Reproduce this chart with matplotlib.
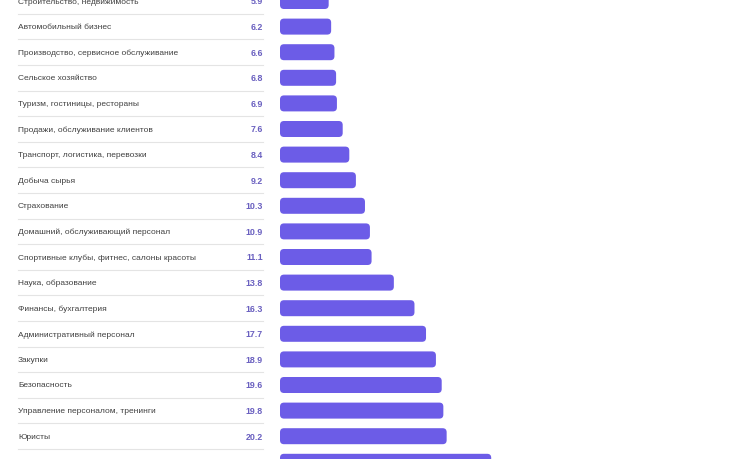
import matplotlib
matplotlib.use("Agg")
import matplotlib.pyplot as plt
from matplotlib.patches import FancyBboxPatch
from matplotlib.transforms import blended_transform_factory

plt.rcParams['font.family'] = ['Liberation Sans', 'DejaVu Sans']

categories = [
    "Строительство, недвижимость",
    "Автомобильный бизнес",
    "Производство, сервисное обслуживание",
    "Сельское хозяйство",
    "Туризм, гостиницы, рестораны",
    "Продажи, обслуживание клиентов",
    "Транспорт, логистика, перевозки",
    "Добыча сырья",
    "Страхование",
    "Домашний, обслуживающий персонал",
    "Спортивные клубы, фитнес, салоны красоты",
    "Наука, образование",
    "Финансы, бухгалтерия",
    "Административный персонал",
    "Закупки",
    "Безопасность",
    "Управление персоналом, тренинги",
    "Юристы",
    "Информационные технологии",
]
values = [5.9, 6.2, 6.6, 6.8, 6.9, 7.6, 8.4, 9.2, 10.3, 10.9,
          11.1, 13.8, 16.3, 17.7, 18.9, 19.6, 19.8, 20.2, 25.6]

W, H = 730, 460
row_h = 25.6      # px between rows
first_y = 2.0     # px of first row centre
px_per_unit = 8.25
bar_x0 = 280

fig = plt.figure(figsize=(W / 100, H / 100), dpi=100)
fig.patch.set_facecolor('white')
ax = fig.add_axes([bar_x0 / W, 0, (W - bar_x0) / W, 1])
ax.set_xlim(0, (W - bar_x0) / px_per_unit)
ax.set_ylim((H - first_y) / row_h, -first_y / row_h)
ax.axis('off')

bar_h = 16 / row_h
# rounded bars: radius in px converted to data units
rad_x = 4 / px_per_unit
aspect = (1 / row_h) / (1 / px_per_unit)
for i, v in enumerate(values):
    p = FancyBboxPatch((rad_x, i - bar_h / 2 + rad_x * aspect),
                       v - 2 * rad_x, bar_h - 2 * rad_x * aspect,
                       boxstyle=f"round,pad={rad_x}",
                       mutation_aspect=aspect,
                       fc='#6c5ce7', ec='none', clip_on=False)
    ax.add_patch(p)

tr = blended_transform_factory(fig.transFigure, ax.transData)
for i, (c, v) in enumerate(zip(categories, values)):
    ax.text(18 / W, i, c, transform=tr, ha='left', va='center',
            fontsize=6.0, color='#404040', clip_on=False)
    ax.text(263 / W, i, f"{v:.1f}", transform=tr, ha='right', va='center',
            fontsize=6.4, color='#6a60c0', fontweight='bold', clip_on=False)
    ax.plot([18 / W, 263 / W], [i + 0.5, i + 0.5], transform=tr,
            color='#e4e4e4', lw=0.8, clip_on=False)

fig.savefig('out.png', dpi=100, facecolor='white')
